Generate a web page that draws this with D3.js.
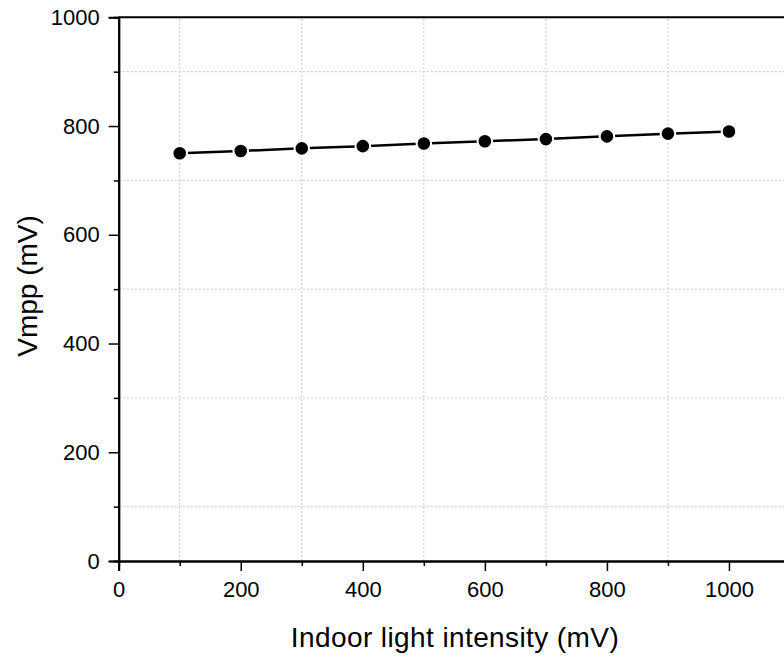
<!DOCTYPE html>
<html>
<head>
<meta charset="utf-8">
<script src="https://cdn.jsdelivr.net/npm/d3@7"></script>
<style>
  body { margin: 0; background: #fff; }
  text { font-family: Arial, "Liberation Sans", sans-serif; fill: #000; }
</style>
</head>
<body>
<script>
// Vmpp vs indoor light intensity
var intensity = [100, 200, 300, 400, 500, 600, 700, 800, 900, 1000];
var vmpp = [750, 754, 759, 763, 768, 772, 776, 781, 786, 790];
var xTicks = [0, 200, 400, 600, 800, 1000];
var yTicks = [0, 200, 400, 600, 800, 1000];
var gridVals = [100, 300, 500, 700, 900];

var width = 784,
    height = 656;

var svg = d3.select("body").append("svg")
    .attr("width", width)
    .attr("height", height);

var x = d3.scaleLinear().domain([0, 1100]).range([118.7, 790]);
var y = d3.scaleLinear().domain([0, 1000]).range([561, 17.3]);

// dotted grid at the odd hundreds
svg.append("g").selectAll("line.gx")
    .data(gridVals)
    .enter().append("line")
    .attr("x1", function(d) { return x(d); })
    .attr("x2", function(d) { return x(d); })
    .attr("y1", y(0))
    .attr("y2", y(1000))
    .style("stroke", "#c8c8c8")
    .style("stroke-dasharray", "2,2");

svg.append("g").selectAll("line.gy")
    .data(gridVals)
    .enter().append("line")
    .attr("x1", x(0))
    .attr("x2", x(1100))
    .attr("y1", function(d) { return y(d); })
    .attr("y2", function(d) { return y(d); })
    .style("stroke", "#c8c8c8")
    .style("stroke-dasharray", "2,2");

// axes
var fmt = d3.format("d");
var xAxis = svg.append("g")
    .attr("transform", "translate(0," + y(0) + ")")
    .call(d3.axisBottom(x).tickValues(xTicks).tickSize(10).tickPadding(10).tickFormat(fmt));
var xMinor = svg.append("g")
    .attr("transform", "translate(0," + y(0) + ")")
    .call(d3.axisBottom(x).tickValues(gridVals).tickSize(5).tickFormat(""));

var yAxis = svg.append("g")
    .attr("transform", "translate(" + x(0) + ",0)")
    .call(d3.axisLeft(y).tickValues(yTicks).tickSize(10).tickPadding(9).tickFormat(fmt));
var yMinor = svg.append("g")
    .attr("transform", "translate(" + x(0) + ",0)")
    .call(d3.axisLeft(y).tickValues(gridVals).tickSize(5).tickFormat(""));

[xAxis, xMinor, yAxis, yMinor].forEach(function(g) {
    g.attr("font-size", null).attr("font-family", null);
    g.select(".domain").style("stroke", "#000").style("stroke-width", 2);
    g.selectAll(".tick line").style("stroke", "#000").style("stroke-width", 1.5);
    g.selectAll(".tick text").style("font-size", "22px");
});

// top frame line
svg.append("line")
    .attr("x1", x(0))
    .attr("x2", x(1100))
    .attr("y1", y(1000))
    .attr("y2", y(1000))
    .style("stroke", "#000")
    .style("stroke-width", 2);

// axis titles
svg.append("text")
    .attr("x", 455)
    .attr("y", 646.5)
    .attr("text-anchor", "middle")
    .style("font-size", "28px")
    .style("letter-spacing", "0.4px")
    .text("Indoor light intensity (mV)");

svg.append("text")
    .attr("transform", "translate(37,286) rotate(-90)")
    .attr("text-anchor", "middle")
    .style("font-size", "28px")
    .text("Vmpp (mV)");

// series
var pts = intensity.map(function(d, i) { return [d, vmpp[i]]; });

svg.append("path")
    .datum(pts)
    .attr("d", d3.line()
        .x(function(d) { return x(d[0]); })
        .y(function(d) { return y(d[1]); }))
    .style("fill", "none")
    .style("stroke", "#000")
    .style("stroke-width", 2.5);

svg.selectAll("circle")
    .data(pts)
    .enter().append("circle")
    .attr("cx", function(d) { return x(d[0]); })
    .attr("cy", function(d) { return y(d[1]); })
    .attr("r", 7.3)
    .style("fill", "#000")
    .style("stroke", "#fff")
    .style("stroke-width", 2);
</script>
</body>
</html>
